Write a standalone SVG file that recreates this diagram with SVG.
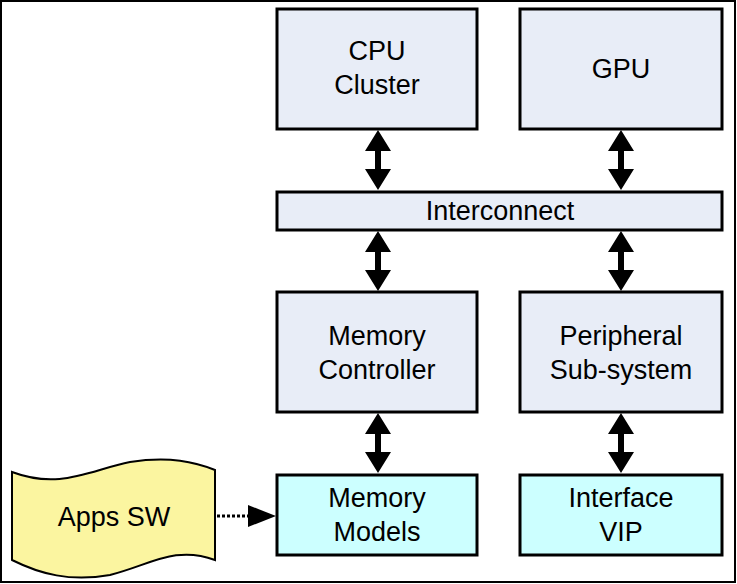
<svg xmlns="http://www.w3.org/2000/svg" width="737" height="584" viewBox="0 0 737 584">
<style>
.b{stroke:#000;stroke-width:3}
.g{fill:#e8edf7}
.c{fill:#ccffff}
text{font-family:"Liberation Sans",Arial,sans-serif;font-size:27px;text-anchor:middle;fill:#000}
</style>
<defs>
<path id="da" d="M0,0 L13,21 L3,21 L3,39 L13,39 L0,60 L-13,39 L-3,39 L-3,21 L-13,21 Z" fill="#000"/>
</defs>
<rect x="1" y="1" width="734" height="581" fill="#fff" stroke="#000" stroke-width="2"/>
<g id="cpu"><rect class="b g" x="277" y="9" width="200" height="120"/><text x="377" y="60">CPU</text><text x="377" y="94">Cluster</text></g>
<g id="gpu"><rect class="b g" x="520" y="9" width="202" height="120"/><text x="621" y="78">GPU</text></g>
<g id="interconnect"><rect class="b g" x="277" y="192" width="445" height="38"/><text x="500" y="220" font-size="24">Interconnect</text></g>
<g id="memctrl"><rect class="b g" x="277" y="292" width="200" height="120"/><text x="377" y="345">Memory</text><text x="377" y="379">Controller</text></g>
<g id="periph"><rect class="b g" x="520" y="292" width="202" height="120"/><text x="621" y="345">Peripheral</text><text x="621" y="379">Sub-system</text></g>
<g id="memmodels"><rect class="b c" x="277" y="475" width="200" height="80"/><text x="377" y="507">Memory</text><text x="377" y="541">Models</text></g>
<g id="vip"><rect class="b c" x="520" y="475" width="202" height="80"/><text x="621" y="507">Interface</text><text x="621" y="541">VIP</text></g>
<g id="apps"><path d="M12,472 C60,490 90,470 130,462 C170,456 195,462 215,470 L215,560 C175,545 150,565 110,575 C70,582 40,574 12,560 Z" fill="#fbf5a0" stroke="#000" stroke-width="2"/><text x="114" y="526">Apps SW</text></g>
<g id="connectors">
<use href="#da" x="378" y="130"/>
<use href="#da" x="621" y="130"/>
<use href="#da" x="378" y="231"/>
<use href="#da" x="621" y="231"/>
<use href="#da" x="378" y="413"/>
<use href="#da" x="621" y="413"/>
<line x1="217" y1="516" x2="250" y2="516" stroke="#000" stroke-width="3" stroke-dasharray="3,2"/>
<path d="M248,505 L276,516 L248,527 Z" fill="#000"/>
</g>
</svg>
